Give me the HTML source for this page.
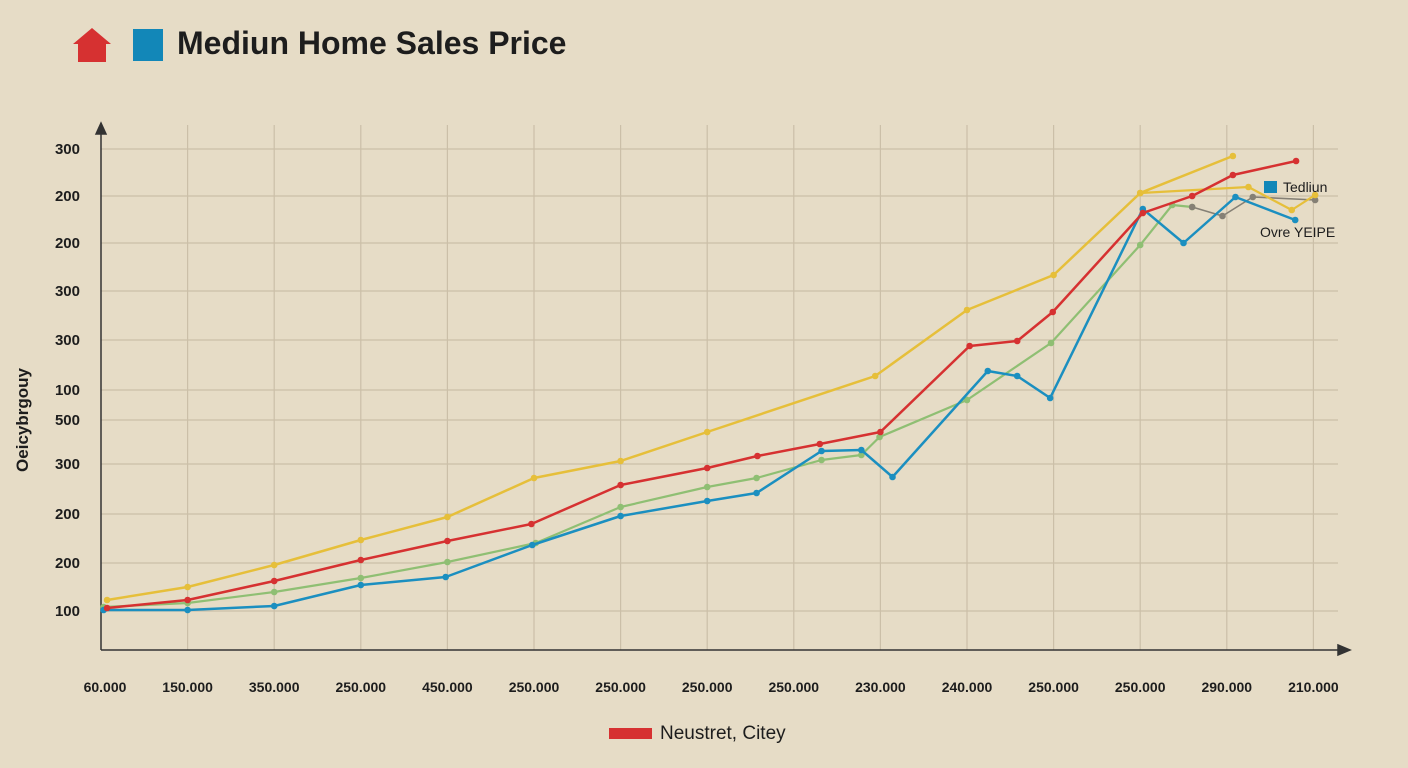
<!DOCTYPE html>
<html><head><meta charset="utf-8"><style>
html,body{margin:0;padding:0;background:#e6dcc6;}
svg{display:block;font-family:"Liberation Sans",sans-serif;}
</style></head><body>
<svg id="chart" width="1408" height="768" viewBox="0 0 1408 768">
<rect width="1408" height="768" fill="#e6dcc6"/>
<g>
<polygon points="73,44 92,28 111,44 106,44 106,62 78,62 78,44" fill="#d63131"/>
<rect x="133" y="29" width="30" height="32" fill="#1287b8"/>
<text x="177" y="54" font-size="32" font-weight="bold" fill="#1d1d1d">Mediun Home Sales Price</text>
</g>
<g id="grid"></g>
<g id="axes"></g>
<g id="series"></g>
<text x="28" y="420" font-size="17" font-weight="bold" fill="#1d1d1d" transform="rotate(-90 28 420)" text-anchor="middle">Oeicybrgouy</text>
<g>
<rect x="1264" y="181" width="13" height="12" fill="#1287b8"/>
<text x="1283" y="192" font-size="14" fill="#1d1d1d">Tedliun</text>
<text x="1260" y="237" font-size="14" fill="#1d1d1d">Ovre YEIPE</text>
</g>
<g>
<rect x="609" y="728" width="43" height="11" fill="#d63131"/>
<text x="660" y="739" font-size="19" fill="#1d1d1d">Neustret, Citey</text>
</g>
</svg>
<script>
const xLabels=["60.000","150.000","350.000","250.000","450.000","250.000","250.000","250.000","250.000","230.000","240.000","250.000","250.000","290.000","210.000"];
const yTickVals=[100.2,90.8,81.4,71.8,62,52,46,37.2,27.2,17.4,7.8];
const yLabels=["300","200","200","300","300","100","500","300","200","200","100"];
const yellowX=[0.07,1,2,3,4,5,6,7,8.94,10,11,12,13.07];
const yellowV=[10,12.6,17,22,26.6,34.4,37.8,43.6,54.8,68,75,91.4,98.8];
const yellow2X=[12,13.25,13.75,14.02];
const yellow2V=[91.4,92.6,88,91];
const redX=[0.07,1,2,3,4,4.97,6,7,7.58,8.3,9.0,10.03,10.58,10.99,12.03,12.6,13.07,13.8];
const redV=[8.4,10,13.8,18,21.8,25.2,33,36.4,38.8,41.2,43.6,60.8,61.8,67.6,87.4,90.8,95,97.8];
const blueX=[0.03,1,2,3,3.98,4.98,6,7,7.57,8.32,8.78,9.14,10.24,10.58,10.96,12.03,12.5,13.1,13.79];
const blueV=[8,8,8.8,13,14.6,21,26.8,29.8,31.4,39.8,40,34.6,55.8,54.8,50.4,88.2,81.4,90.6,86];
const greenX=[0.03,1,2,3,4,5.02,6,7,7.57,8.32,8.78,8.99,10,10.97,12,12.37,12.6];
const greenV=[8.6,9.4,11.6,14.4,17.6,21.4,28.6,32.6,34.4,38,39,42.6,50,61.4,81,89,88.6];
const grayX=[12.6,12.95,13.3,14.02];
const grayV=[88.6,86.8,90.6,90];
const x0=101,xStep=86.6,yBase=650,yUnit=5;
const sx=i=>x0+i*xStep, sy=v=>yBase-v*yUnit;
const NS="http://www.w3.org/2000/svg";
function mk(tag,attrs,parent){const e=document.createElementNS(NS,tag);for(const k in attrs)e.setAttribute(k,attrs[k]);parent.appendChild(e);return e;}
const grid=document.getElementById('grid'),axes=document.getElementById('axes'),ser=document.getElementById('series');
yTickVals.forEach((v,i)=>{
  const l=mk('line',{x1:101,x2:1338,y1:sy(v),y2:sy(v),stroke:'#cbbfa8','stroke-width':1.2},grid);
  
  
  const t=mk('text',{x:80,y:sy(v)+5,'font-size':15,'font-weight':'bold','text-anchor':'end',fill:'#1d1d1d'},axes);
  t.textContent=yLabels[i];
  
  
});
xLabels.forEach((s,i)=>{
  if(i>0){const l=mk('line',{x1:sx(i),x2:sx(i),y1:125,y2:650,stroke:'#cbbfa8','stroke-width':1.2},grid);
  
  }
  const t=mk('text',{x:sx(i)+(i==0?4:0),y:692,'font-size':14,'font-weight':'bold','text-anchor':'middle',fill:'#1d1d1d'},axes);
  t.textContent=s;
  
  
});
const ya=mk('path',{d:'M101,650 L101,130 M96,134 L101,123 L106,134 Z',stroke:'#333',fill:'#333','stroke-width':1.5},axes);


const xa=mk('path',{d:'M101,650 L1342,650 M1338,645 L1350,650 L1338,655 Z',stroke:'#333',fill:'#333','stroke-width':1.5},axes);


function draw(xs,vs,color,name,dots,w){
  const g=mk('g',{},ser);
  
  
  const p=mk('polyline',{points:xs.map((x,i)=>sx(x)+','+sy(vs[i])).join(' '),fill:'none',stroke:color,'stroke-width':w,'stroke-linejoin':'round'},g);
  
  
  if(dots)xs.forEach((x,i)=>{const c=mk('circle',{cx:sx(x),cy:sy(vs[i]),r:3.3,fill:color},g);
    
    });
}
draw(greenX,greenV,'#8fbf73','green-series',true,2.2);
draw(grayX,grayV,'#858075','gray-series',true,1.6);
draw(yellow2X,yellow2V,'#e6bf3a','yellow-branch-series',true,2.2);
draw(yellowX,yellowV,'#e6bf3a','yellow-series',true,2.5);
draw(blueX,blueV,'#1b8fc0','blue-series',true,2.5);
draw(redX,redV,'#d63131','red-series',true,2.5);
</script>
</body></html>
